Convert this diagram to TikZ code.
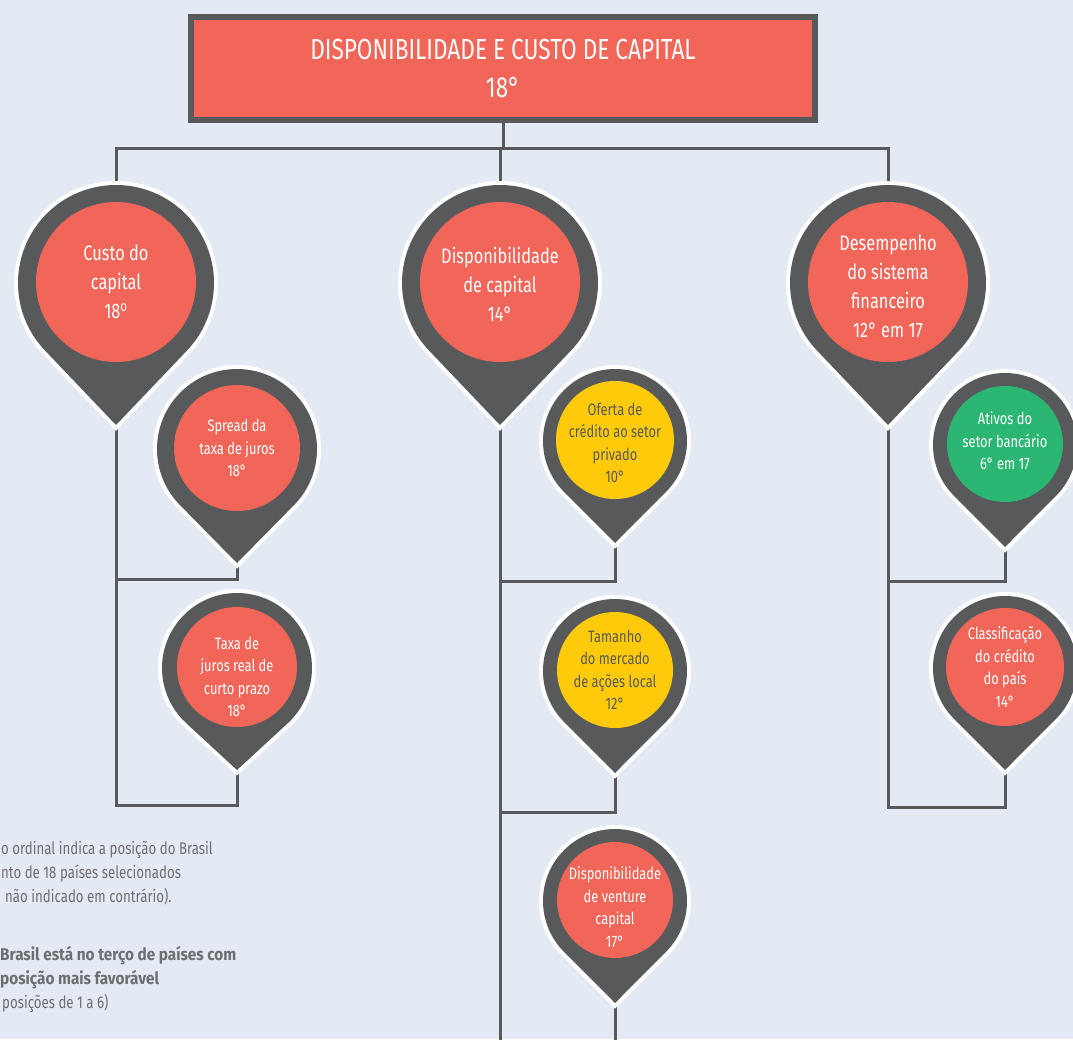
\documentclass[tikz,border=0pt]{standalone}
\usepackage{fontspec}
\setmainfont{Fira Sans}[FakeStretch=0.78]
\newfontfamily\noteboldfont{Fira Sans}[FakeStretch=0.9]
\usetikzlibrary{backgrounds}
\definecolor{bg}{HTML}{E4EAF4}
\definecolor{pinred}{HTML}{F26659}
\definecolor{pingray}{HTML}{58595B}
\definecolor{pinyellow}{HTML}{FFCA0A}
\definecolor{pingreen}{HTML}{2BB673}
\definecolor{notegray}{HTML}{6D6E71}
\tikzset{
  conn/.style={draw=pingray, line width=3},
  bigtxt/.style={font=\fontsize{21}{29}\selectfont},
  smalltxt/.style={font=\fontsize{16.5}{22.5}\selectfont},
  redc/.style={fill=pinred,text=white},
  yelc/.style={fill=pinyellow,text=pingray},
  grnc/.style={fill=pingreen,text=white},
  note/.style={text=notegray,font=\fontsize{17}{24}\selectfont,inner sep=0,anchor=base west},
  notebold/.style={note,font=\fontsize{17}{24}\selectfont\noteboldfont\bfseries},
}
% #1 name, #2 cx, #3 cy (px, downwards), #4 R, #5 tip distance, #6 inner r, #7 style, #8 text, #9 text shift
\newcommand\mypin[9]{%
  \pgfmathsetmacro\pinA{acos(#4/#5)}%
  \pgfmathsetmacro\pinX{#4*sin(\pinA)}%
  \pgfmathsetmacro\pinY{#4*cos(\pinA)}%
  \draw[white, line width=8, line join=miter] (#2,-#3-#5) -- (#2+\pinX,-#3-\pinY)
     arc[start angle=-90+\pinA, end angle=270-\pinA, radius=#4] -- cycle;
  \fill[pingray] (#2,-#3-#5) -- (#2+\pinX,-#3-\pinY)
     arc[start angle=-90+\pinA, end angle=270-\pinA, radius=#4] -- cycle;
  \path[#7] (#2,-#3+1) circle[radius=#6];
  \node[align=center, inner sep=0, #7, fill=none] (#1) at (#2,-#3+1+#9) {#8};
  \coordinate (#1-tip) at (#2,-#3-#5);
  \coordinate (#1-top) at (#2,-#3+#4);
}
\begin{document}
\begin{tikzpicture}[x=1pt,y=1pt]
\useasboundingbox (0,0) rectangle (1073,-1039);

% title
\node[draw=pingray, line width=6, fill=pinred, minimum width=624, minimum height=103,
      inner sep=0, align=center, text=white, font=\fontsize{29}{38}\selectfont]
      (title) at (503,-68.5) {DISPONIBILIDADE E CUSTO DE CAPITAL\\18°};

% pins
\mypin{custo}{116}{283}{98}{142}{80}{redc,bigtxt}{Custo do\\capital\\18\textsuperscript{o}}{0}
\mypin{disp}{500}{283}{98}{142}{80}{redc,bigtxt}{Disponibilidade\\de capital\\14°}{-2}
\mypin{desemp}{888}{283}{98}{142}{80}{redc,bigtxt}{Desempenho\\do sistema\\financeiro\\12° em 17}{-4}
\mypin{spread}{237}{449}{80}{114}{63}{redc,smalltxt}{Spread da\\taxa de juros\\18°}{0}
\mypin{taxa}{237}{668}{75}{102}{60}{redc,smalltxt}{Taxa de\\juros real de\\curto prazo\\18°}{-10}
\mypin{oferta}{615}{441}{72}{102}{59}{yelc,smalltxt}{Oferta de\\crédito ao setor\\privado\\10°}{-3}
\mypin{tamanho}{615}{671}{72}{102}{58}{yelc,smalltxt}{Tamanho\\do mercado\\de ações local\\12°}{0}
\mypin{venture}{615}{901}{72}{102}{58}{redc,smalltxt}{Disponibilidade\\de venture\\capital\\17°}{-7}
\mypin{ativos}{1005}{445}{72}{102}{58}{grnc,smalltxt}{Ativos do\\setor bancário\\6° em 17}{3}
\mypin{classif}{1005}{668}{72}{102}{59}{redc,smalltxt}{Classificação\\do crédito\\do país\\14°}{0}

% junction coordinates
\coordinate (barM) at (503,-148);
\coordinate (jL1) at (116,-579);
\coordinate (jL2) at (116,-805);
\coordinate (jM1) at (500,-581);
\coordinate (jM2) at (500,-812);
\coordinate (jMend) at (500,-1050);
\coordinate (vend) at (615,-1050);
\coordinate (jR1) at (888,-581);
\coordinate (jR2) at (888,-807);

\begin{pgfonlayer}{background}
\fill[bg] (0,0) rectangle (1073,-1039);
\draw[conn] (title.south) -- (barM);
\draw[conn] (custo-top) |- (barM) -| (desemp-top);
\draw[conn] (disp-top) -- (disp-top |- barM);
\draw[conn] (custo-tip) -- (jL2) -| (taxa-tip);
\draw[conn] (spread-tip) |- (jL1);
\draw[conn] (disp-tip) -- (jMend);
\draw[conn] (oferta-tip) |- (jM1);
\draw[conn] (tamanho-tip) |- (jM2);
\draw[conn] (venture-tip) -- (vend);
\draw[conn] (desemp-tip) -- (jR2) -| (classif-tip);
\draw[conn] (ativos-tip) |- (jR1);
\end{pgfonlayer}

% note
\node[note] (n1) at (1,-854) {o ordinal indica a posição do Brasil};
\node[note] (n2) at (1,-878) {nto de 18 países selecionados};
\node[note] (n3) at (5,-902) {não indicado em contrário).};
\node[notebold] (n4) at (0,-960) {Brasil está no terço de países com};
\node[notebold] (n5) at (0,-984) {posição mais favorável};
\node[note] (n6) at (2,-1008) {posições de 1 a 6)};
\end{tikzpicture}
\end{document}
